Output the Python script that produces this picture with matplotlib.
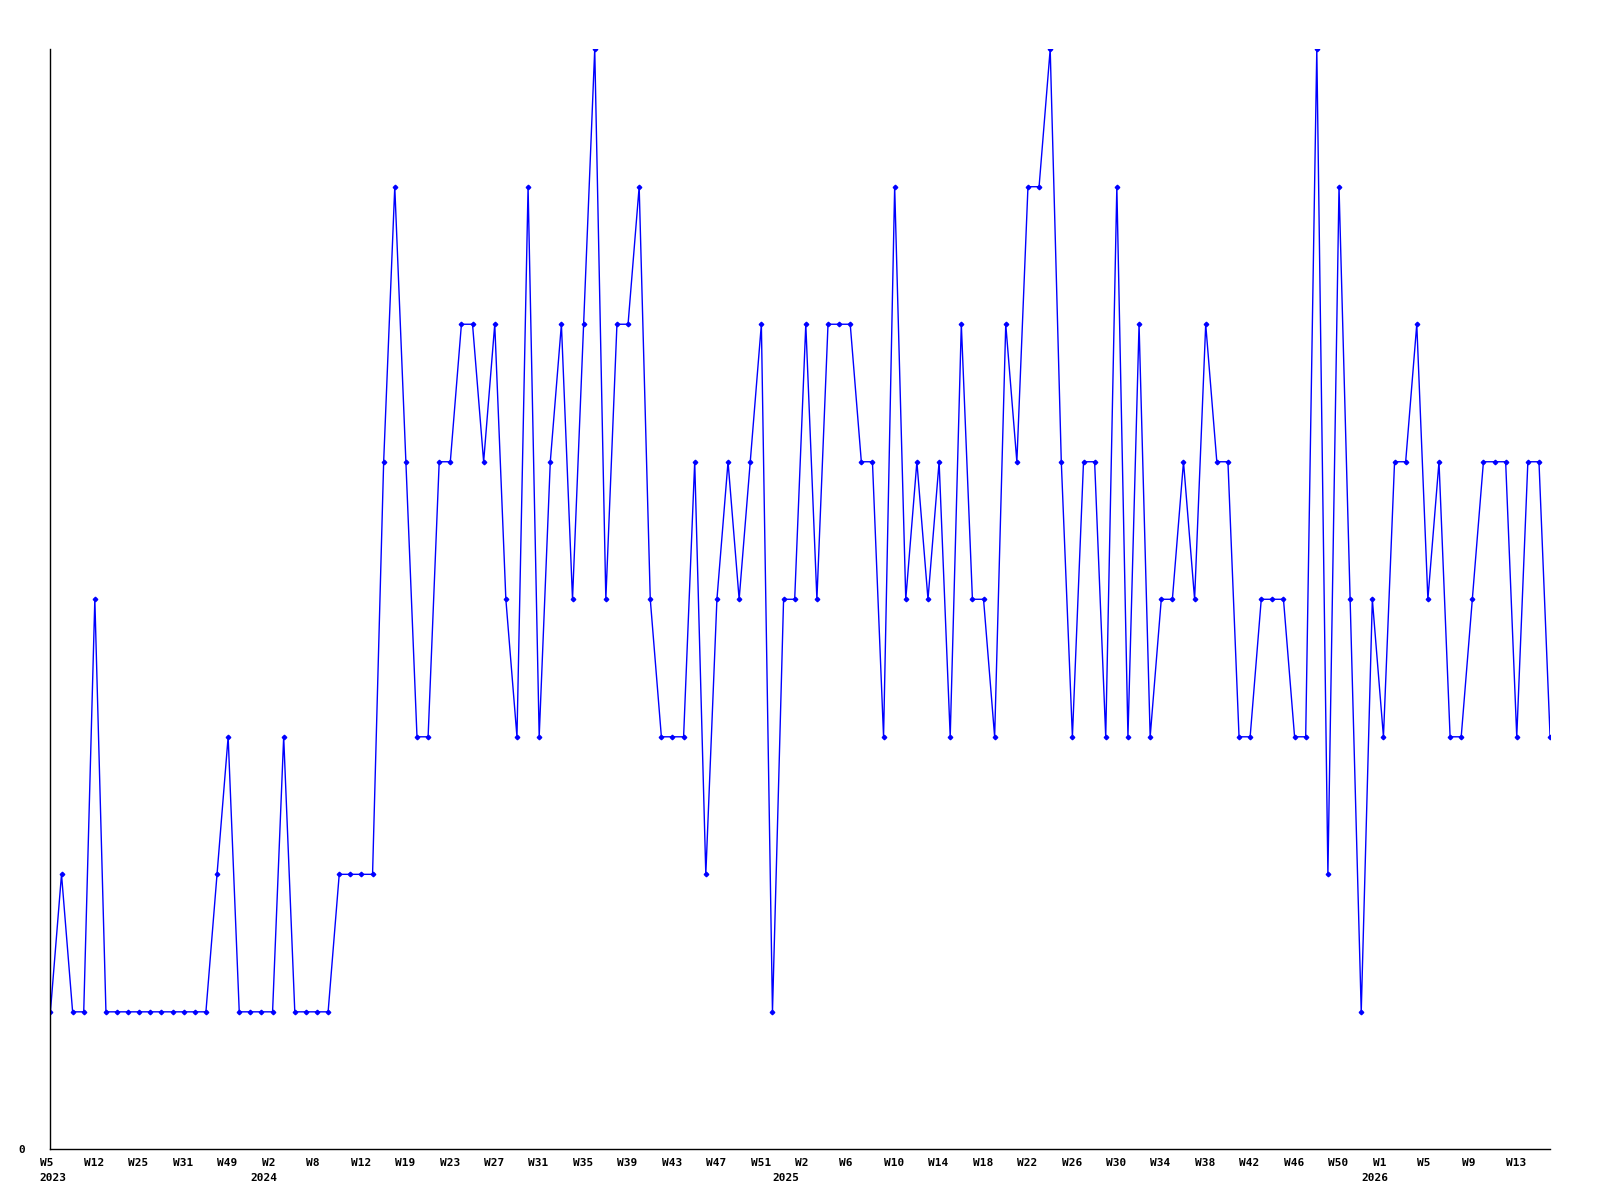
import matplotlib
matplotlib.use("Agg")
import matplotlib.pyplot as plt
from matplotlib.transforms import ScaledTranslation, blended_transform_factory

# weekly counts, one per point along the category axis
values = [
    1, 2, 1, 1, 4, 1, 1, 1, 1, 1, 1, 1, 1, 1, 1, 2, 3, 1, 1, 1,
    1, 3, 1, 1, 1, 1, 2, 2, 2, 2, 5, 7, 5, 3, 3, 5, 5, 6, 6, 5,
    6, 4, 3, 7, 3, 5, 6, 4, 6, 8, 4, 6, 6, 7, 4, 3, 3, 3, 5, 2,
    4, 5, 4, 5, 6, 1, 4, 4, 6, 4, 6, 6, 6, 5, 5, 3, 7, 4, 5, 4,
    5, 3, 6, 4, 4, 3, 6, 5, 7, 7, 8, 5, 3, 5, 5, 3, 7, 3, 6, 3,
    4, 4, 5, 4, 6, 5, 5, 3, 3, 4, 4, 4, 3, 3, 8, 2, 7, 4, 1, 4,
    3, 5, 5, 6, 4, 5, 3, 3, 4, 5, 5, 5, 3, 5, 5, 3,
]

# a week label every 4th point
week_labels = [
    "W5", "W12", "W25", "W31", "W49", "W2", "W8", "W12", "W19", "W23",
    "W27", "W31", "W35", "W39", "W43", "W47", "W51", "W2", "W6", "W10",
    "W14", "W18", "W22", "W26", "W30", "W34", "W38", "W42", "W46", "W50",
    "W1", "W5", "W9", "W13",
]
# year labels and the point they sit under
years = ["2023", "2024", "2025", "2026"]
year_pos = [0, 19, 66, 119]

fig = plt.figure(figsize=(16, 12), dpi=100)
ax = fig.add_axes([0.0315, 0.0422, 0.9373, 0.9168])

xs = list(range(len(values)))
ax.plot(xs, values, color="#0000ff", lw=1.0, marker="D", ms=2.3,
        mfc="#0000ff", mec="#0000ff")

ax.set_xlim(0, len(values) - 1)
ax.set_ylim(0, 8)

ax.set_xticks([])
ax.set_yticks([0])
ax.set_yticklabels(["0"], fontfamily="DejaVu Sans Mono", fontweight="bold",
                   fontsize=8)
ax.tick_params(axis="y", length=0, pad=18)

font = dict(fontfamily="DejaVu Sans Mono", fontweight="bold", fontsize=8,
            ha="left", va="baseline")
base = blended_transform_factory(ax.transData, ax.transAxes)
week_tr = base + ScaledTranslation(-0.108, -0.164, fig.dpi_scale_trans)
year_tr = base + ScaledTranslation(-0.108, -0.314, fig.dpi_scale_trans)
for i, w in enumerate(week_labels):
    ax.text(4 * i, 0, w, transform=week_tr, clip_on=False, **font)
for y, p in zip(years, year_pos):
    ax.text(p, 0, y, transform=year_tr, clip_on=False, **font)

for s in ("top", "right"):
    ax.spines[s].set_visible(False)
for s in ("left", "bottom"):
    ax.spines[s].set_linewidth(1.0)

fig.savefig("out.png", dpi=100)
